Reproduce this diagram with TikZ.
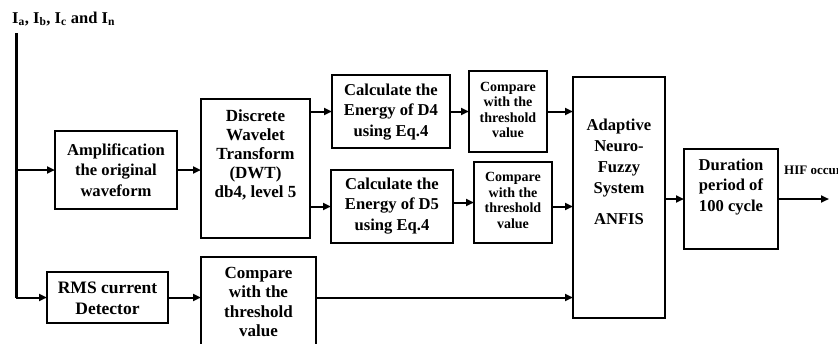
\documentclass[tikz,border=0pt]{standalone}
\usepackage{fontspec}
\setmainfont{Liberation Serif}
\usetikzlibrary{arrows.meta}
\begin{document}
\begin{tikzpicture}[x=1pt,y=-1pt,
  box/.style={draw=black,line width=1.2pt,minimum width=#1,inner sep=0pt,outer sep=0pt},
  txt/.style={align=center,font=\bfseries\fontsize{16.6}{20.5}\selectfont,inner sep=0pt},
  stxt/.style={align=center,font=\bfseries\fontsize{14}{15.6}\selectfont,inner sep=0pt},
  arr/.style={line width=2pt,-{Triangle[length=8pt,width=7pt]}},
  ln/.style={line width=2pt}]
\useasboundingbox (0,0) rectangle (838,343);
\clip (0,0) rectangle (838,343);
% boxes
\node[box=122pt,minimum height=78pt] (amp) at (116,170) {};
\node[txt] (ampt) at (116,170) {Amplification\\the original\\waveform};
\node[box=109pt,minimum height=139pt] (dwt) at (255.5,168.5) {};
\node[txt,font=\bfseries\fontsize{17}{19}\selectfont] (dwtt) at (255.5,155) {Discrete\\Wavelet\\Transform\\(DWT)\\db4, level 5};
\node[box=121pt,minimum height=51pt] (rms) at (107.5,297.5) {};
\node[txt,font=\bfseries\fontsize{17.5}{21}\selectfont] (rmst) at (107.5,298) {RMS current\\Detector};
\node[box=115pt,minimum height=91pt] (cmp3) at (258.5,302.5) {};
\node[txt,font=\bfseries\fontsize{17}{19.3}\selectfont] (cmp3t) at (258.5,302) {Compare\\with the\\threshold\\value};
\node[box=118pt,minimum height=73pt] (calc4) at (391,111.5) {};
\node[txt] (calc4t) at (391,112) {Calculate the\\Energy of D4\\using Eq.4};
\node[box=122pt,minimum height=73pt] (calc5) at (392,206.5) {};
\node[txt] (calc5t) at (392,206) {Calculate the\\Energy of D5\\using Eq.4};
\node[box=78pt,minimum height=81pt] (cmp4) at (508,111.5) {};
\node[stxt] (cmp4t) at (508,110) {Compare\\with the\\threshold\\value};
\node[box=78pt,minimum height=81pt] (cmp5) at (513,202.5) {};
\node[stxt] (cmp5t) at (513,200.5) {Compare\\with the\\threshold\\value};
\node[box=92pt,minimum height=241pt] (anfis) at (619,197.5) {};
\node[txt,font=\bfseries\fontsize{16.6}{21}\selectfont] (anfist) at (619,172) {Adaptive\\Neuro-\\Fuzzy\\System\\[10pt]ANFIS};
\node[box=94pt,minimum height=100pt] (dur) at (731,199) {};
\node[txt] (durt) at (731,187) {Duration\\period of\\100 cycle};
% input
\node[anchor=base west,inner sep=0pt,font=\bfseries\fontsize{16.5}{16.5}\selectfont] (inp) at (12,23) {I\textsubscript{a}, I\textsubscript{b}, I\textsubscript{c} and I\textsubscript{n}};
\coordinate (ttop) at (16,33);
\coordinate (tbot) at (16,297.5);
\coordinate (tmid) at (16,170);
\draw[line width=3pt] (ttop) -- (tbot);
\draw[arr] (tmid) -- (amp.west);
\draw[arr] (tbot) -- (rms.west);
% connectors
\draw[arr] (amp.east) -- (amp.east -| dwt.west);
\draw[arr] (dwt.east |- calc4.west) -- (calc4.west);
\draw[arr] (dwt.east |- calc5.west) -- (calc5.west);
\draw[arr] (calc4.east) -- (calc4.east -| cmp4.west);
\draw[arr] (calc5.east |- cmp5.west) -- (cmp5.west);
\draw[arr] (cmp4.east) -- (cmp4.east -| anfis.west);
\draw[arr] ([yshift=-4pt]cmp5.east) -- ([yshift=-4pt]cmp5.east -| anfis.west);
\draw[arr] (rms.east) -- (rms.east -| cmp3.west);
\draw[arr] (cmp3.east |- rms.east) -- (rms.east -| anfis.west);
\draw[arr] (anfis.east |- dur.west) -- (dur.west);
\coordinate (out) at (829,199);
\draw[arr] (dur.east) -- (out);
\node[anchor=base west,inner sep=0pt,font=\bfseries\fontsize{13}{13}\selectfont] (hif) at (784,174) {HIF occurs};
\end{tikzpicture}
\end{document}
